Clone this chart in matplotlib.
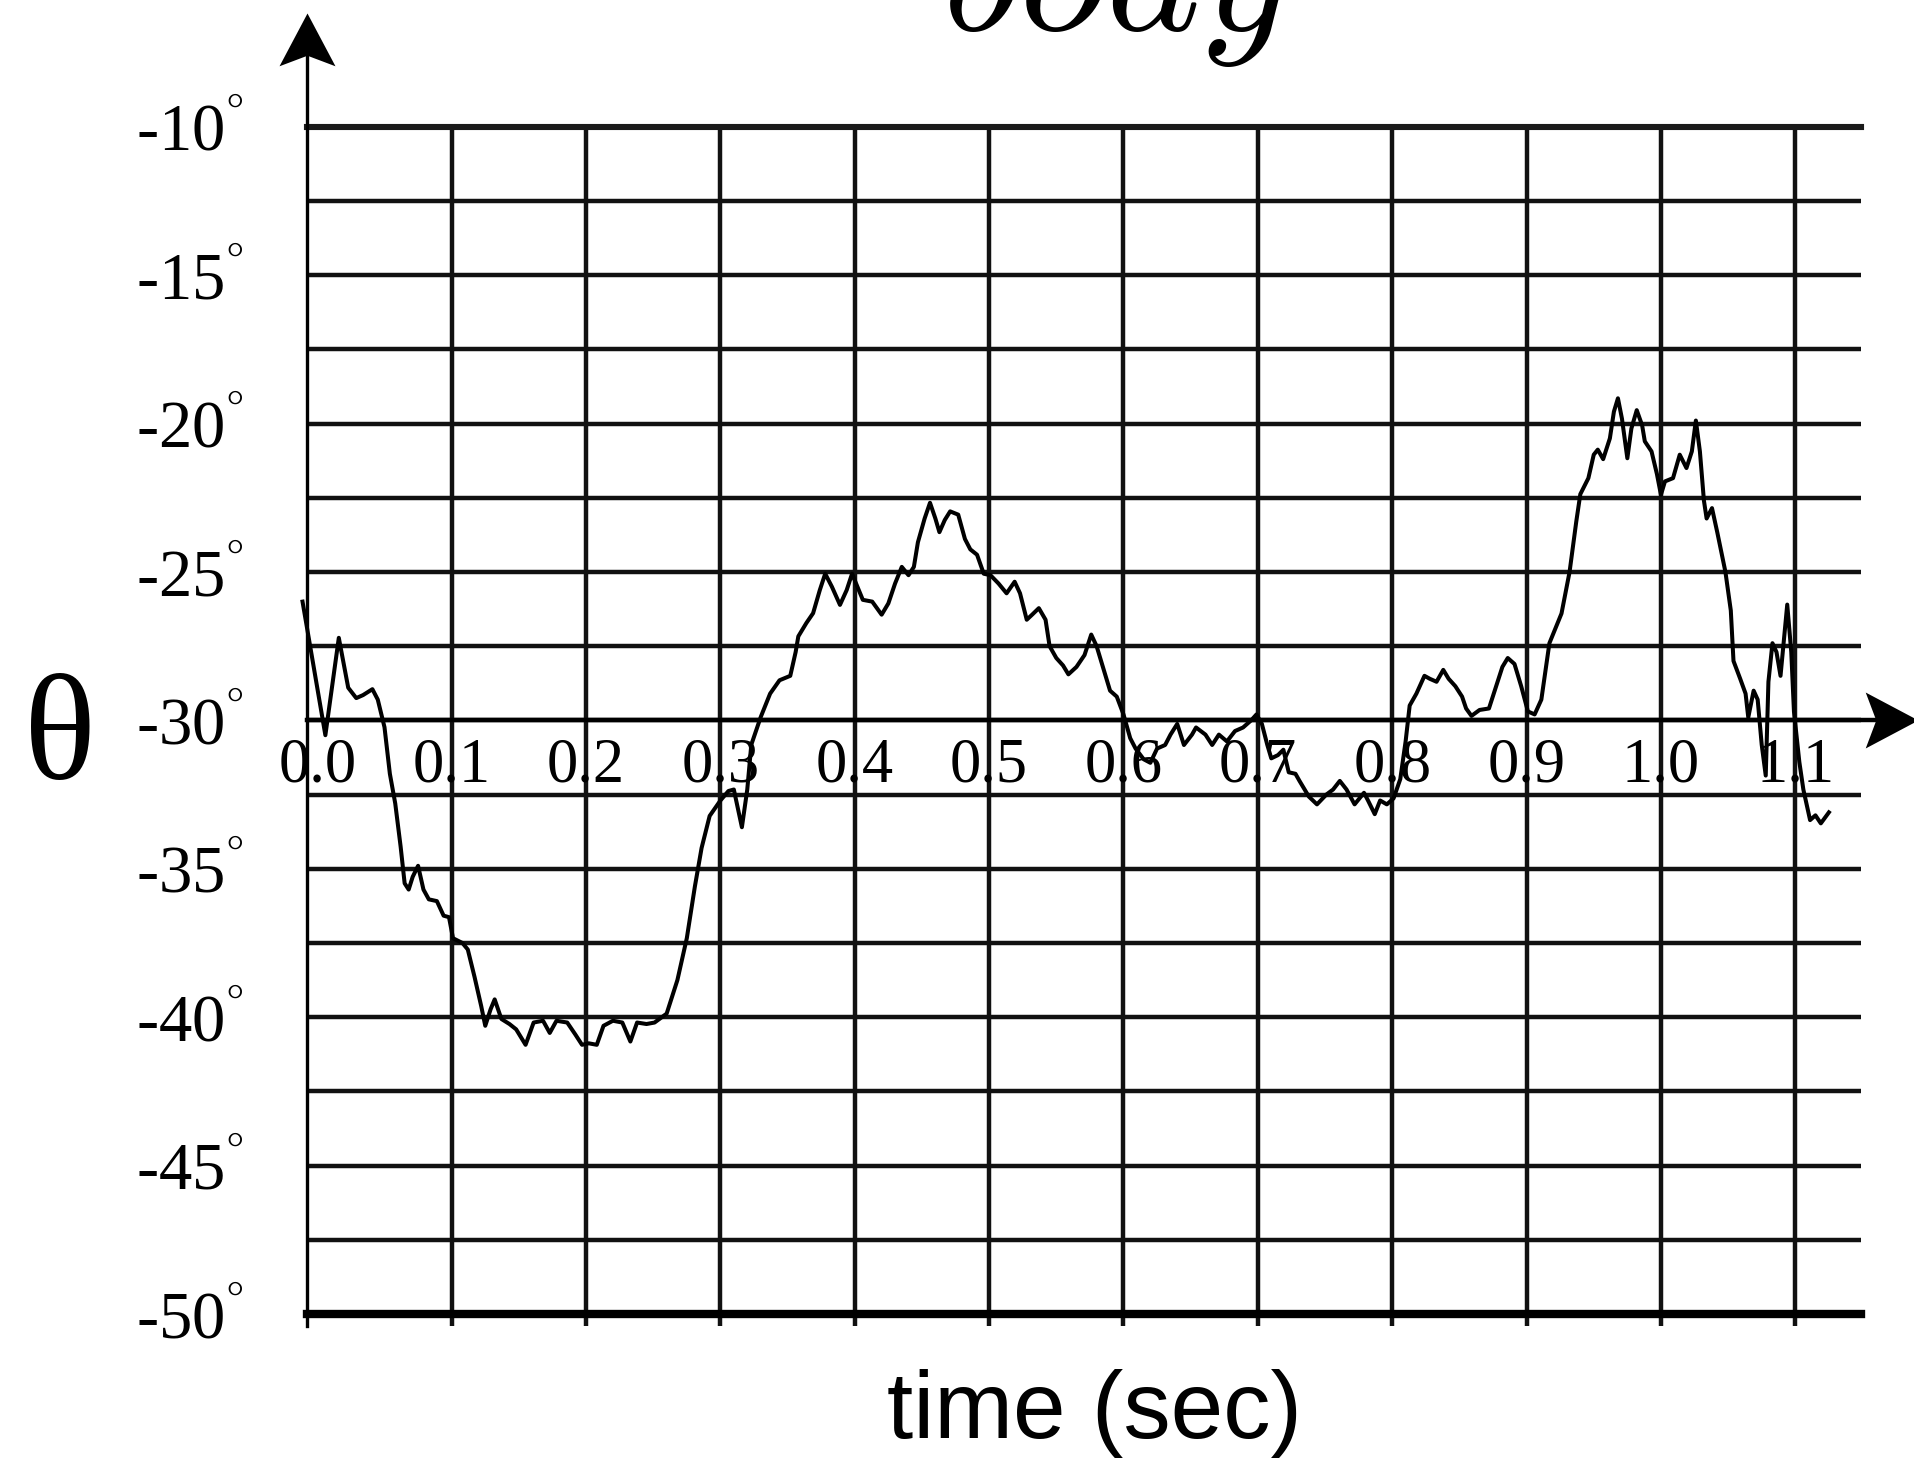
import matplotlib
matplotlib.use("Agg")
import matplotlib.pyplot as plt
from matplotlib.path import Path

# body angle trace (time in s, angle in degrees)
time_s = [
    -0.011, 0.006, 0.016, 0.023, 0.029, 0.034, 0.041, 0.045, 0.050, 0.054,
    0.058, 0.062, 0.065, 0.068, 0.071, 0.075, 0.079, 0.083, 0.089, 0.094,
    0.098, 0.101, 0.108, 0.112, 0.117, 0.122, 0.125, 0.129, 0.132, 0.137,
    0.143, 0.148, 0.155, 0.161, 0.168, 0.173, 0.178, 0.186, 0.192, 0.197,
    0.202, 0.208, 0.213, 0.220, 0.227, 0.233, 0.238, 0.245, 0.251, 0.260,
    0.268, 0.275, 0.281, 0.286, 0.292, 0.300, 0.306, 0.310, 0.313, 0.316,
    0.320, 0.323, 0.330, 0.337, 0.344, 0.352, 0.356, 0.358, 0.364, 0.369,
    0.374, 0.378, 0.383, 0.389, 0.394, 0.398, 0.403, 0.406, 0.413, 0.420,
    0.425, 0.430, 0.435, 0.440, 0.444, 0.447, 0.452, 0.456, 0.460, 0.463,
    0.467, 0.471, 0.477, 0.482, 0.486, 0.491, 0.496, 0.501, 0.507, 0.513,
    0.519, 0.523, 0.528, 0.532, 0.537, 0.542, 0.545, 0.550, 0.555, 0.559,
    0.565, 0.571, 0.576, 0.580, 0.585, 0.590, 0.595, 0.600, 0.605, 0.609,
    0.615, 0.620, 0.625, 0.631, 0.635, 0.640, 0.645, 0.651, 0.654, 0.661,
    0.666, 0.671, 0.677, 0.683, 0.689, 0.695, 0.699, 0.703, 0.707, 0.710,
    0.715, 0.719, 0.723, 0.728, 0.731, 0.738, 0.744, 0.751, 0.756, 0.761,
    0.766, 0.772, 0.779, 0.782, 0.787, 0.791, 0.796, 0.801, 0.806, 0.810,
    0.813, 0.818, 0.824, 0.828, 0.833, 0.838, 0.842, 0.847, 0.852, 0.855,
    0.859, 0.865, 0.872, 0.877, 0.882, 0.886, 0.891, 0.896, 0.901, 0.906,
    0.911, 0.917, 0.926, 0.932, 0.937, 0.940, 0.946, 0.950, 0.953, 0.957,
    0.962, 0.965, 0.968, 0.971, 0.975, 0.978, 0.982, 0.986, 0.988, 0.993,
    0.997, 1.000, 1.003, 1.009, 1.014, 1.019, 1.023, 1.026, 1.029, 1.032,
    1.034, 1.038, 1.042, 1.048, 1.052, 1.054, 1.059, 1.063, 1.065, 1.069,
    1.072, 1.075, 1.078, 1.080, 1.083, 1.086, 1.089, 1.092, 1.094, 1.097,
    1.099, 1.103, 1.106, 1.111, 1.115, 1.119, 1.125,
]
theta_deg = [
    -26.00, -30.50, -27.22, -28.90, -29.25, -29.15, -28.95, -29.30, -30.23, -31.80,
    -32.80, -34.25, -35.49, -35.70, -35.27, -34.90, -35.70, -36.03, -36.09, -36.58,
    -36.63, -37.34, -37.50, -37.72, -38.64, -39.63, -40.29, -39.73, -39.40, -40.06,
    -40.23, -40.41, -40.93, -40.18, -40.12, -40.53, -40.12, -40.18, -40.58, -40.93,
    -40.88, -40.93, -40.29, -40.12, -40.18, -40.82, -40.18, -40.23, -40.18, -39.88,
    -38.75, -37.34, -35.60, -34.30, -33.22, -32.70, -32.38, -32.33, -32.96, -33.60,
    -32.33, -30.82, -29.89, -29.10, -28.65, -28.50, -27.70, -27.17, -26.72, -26.39,
    -25.61, -25.06, -25.50, -26.11, -25.61, -25.06, -25.61, -25.94, -26.00, -26.44,
    -26.06, -25.39, -24.83, -25.11, -24.83, -24.00, -23.20, -22.67, -23.20, -23.66,
    -23.25, -22.96, -23.07, -23.89, -24.24, -24.42, -25.06, -25.11, -25.39, -25.72,
    -25.33, -25.72, -26.61, -26.44, -26.22, -26.61, -27.50, -27.90, -28.15, -28.45,
    -28.20, -27.80, -27.11, -27.50, -28.25, -29.00, -29.20, -29.80, -30.60, -30.95,
    -31.31, -31.43, -30.95, -30.83, -30.48, -30.12, -30.83, -30.48, -30.24, -30.48,
    -30.83, -30.48, -30.71, -30.36, -30.24, -30.00, -29.80, -30.12, -30.82, -31.28,
    -31.17, -30.99, -31.75, -31.80, -32.04, -32.57, -32.83, -32.50, -32.33, -32.04,
    -32.33, -32.83, -32.44, -32.70, -33.16, -32.70, -32.83, -32.63, -31.98, -30.70,
    -29.50, -29.10, -28.50, -28.60, -28.70, -28.30, -28.60, -28.85, -29.20, -29.60,
    -29.85, -29.65, -29.60, -28.90, -28.20, -27.90, -28.10, -28.85, -29.70, -29.80,
    -29.30, -27.40, -26.40, -25.00, -23.30, -22.38, -21.84, -21.05, -20.88, -21.20,
    -20.50, -19.60, -19.15, -19.84, -21.17, -20.17, -19.55, -20.06, -20.60, -20.94,
    -21.70, -22.40, -21.95, -21.84, -21.05, -21.50, -20.94, -19.90, -20.94, -22.60,
    -23.20, -22.85, -23.68, -25.00, -26.30, -28.00, -28.60, -29.10, -29.90, -29.00,
    -29.30, -30.82, -31.86, -28.70, -27.40, -27.70, -28.50, -27.06, -26.10, -27.70,
    -29.70, -31.40, -32.33, -33.36, -33.20, -33.47, -33.10,
]

x_label_pos = [0.0, 0.1, 0.2, 0.3, 0.4, 0.5, 0.6, 0.7, 0.8, 0.9, 1.0, 1.1]
x_labels = ["0.0", "0.1", "0.2", "0.3", "0.4", "0.5", "0.6", "0.7", "0.8", "0.9", "1.0", "1.1"]
y_major = [-10, -15, -20, -25, -30, -35, -40, -45, -50]
y_minor = [-12.5, -17.5, -22.5, -27.5, -32.5, -37.5, -42.5, -47.5]

plt.rcParams["mathtext.fontset"] = "stix"
serif = "Liberation Serif"

W, H = 1915, 1458
fig = plt.figure(figsize=(W / 100, H / 100), dpi=100)
fig.patch.set_facecolor("white")

# axes box in pixels (left, right, top, bottom)
L, R, T, B = 307.5, 1861, 125.2, 1325.9
ax = fig.add_axes([L / W, 1 - B / H, (R - L) / W, (B - T) / H])
x_lo, x_hi = -0.0073, 1.1489
y_lo, y_hi = -50.4, -9.95
ax.set_xlim(x_lo, x_hi)
ax.set_ylim(y_lo, y_hi)

for s in ax.spines.values():
    s.set_visible(False)

ax.set_xticks(x_label_pos[1:])
ax.tick_params(axis="x", length=0, labelbottom=False)
ax.set_yticks(y_major, [f"{v:g}" + "$^{°}$" for v in y_major])
ax.set_yticks(y_minor, minor=True)
ax.tick_params(axis="y", which="both", length=0, pad=46, labelsize=48)
for lab in ax.get_yticklabels():
    lab.set_fontfamily(serif)

ax.grid(True, which="both", color="#111111", lw=3.2)
ax.set_axisbelow(True)
ax.axhline(-10, color="#1a1a1a", lw=4.4, clip_on=False)
ax.axhline(-50, color="black", lw=6.0, clip_on=False)

# axes with arrow heads
y_tip = -6.17
x_tip = 1.1913
ax.plot([x_lo, x_lo], [y_lo, y_tip - 1], color="black", lw=2.4, clip_on=False)
ax.plot([x_lo, x_tip - 0.03], [-30, -30], color="black", lw=3.2, clip_on=False)
up = Path([(0, 0), (0.53, -1.0), (0, -0.8), (-0.53, -1.0), (0, 0)],
          [Path.MOVETO, Path.LINETO, Path.LINETO, Path.LINETO, Path.CLOSEPOLY])
right = Path([(0, 0), (-1.0, 0.53), (-0.8, 0), (-1.0, -0.53), (0, 0)],
             [Path.MOVETO, Path.LINETO, Path.LINETO, Path.LINETO, Path.CLOSEPOLY])
ax.plot([x_lo], [y_tip], marker=up, ms=76, color="black", mew=0, clip_on=False)
ax.plot([x_tip], [-30], marker=right, ms=76, color="black", mew=0, clip_on=False)

ax.plot(time_s, theta_deg, color="black", lw=2.9, clip_on=False, zorder=5)

for pos, lab in zip(x_label_pos, x_labels):
    ax.text(max(pos, x_lo), -32.05, lab, ha="center", va="baseline",
            fontsize=45, family=serif, zorder=4)

ax.set_xlabel("time (sec)", fontsize=68, family="Liberation Sans", va="baseline")
ax.xaxis.set_label_coords((1095 - L) / (R - L), (B - 1438) / (B - T))

fig.text(60 / W, 1 - 743 / H, "θ", fontsize=108, family=serif, ha="center", va="center")
fig.text(1116 / W, 1 - 30 / H, r"$body$", fontsize=130, math_fontfamily="cm",
         ha="center", va="baseline")

fig.savefig("out.png", dpi=100, facecolor="white")
